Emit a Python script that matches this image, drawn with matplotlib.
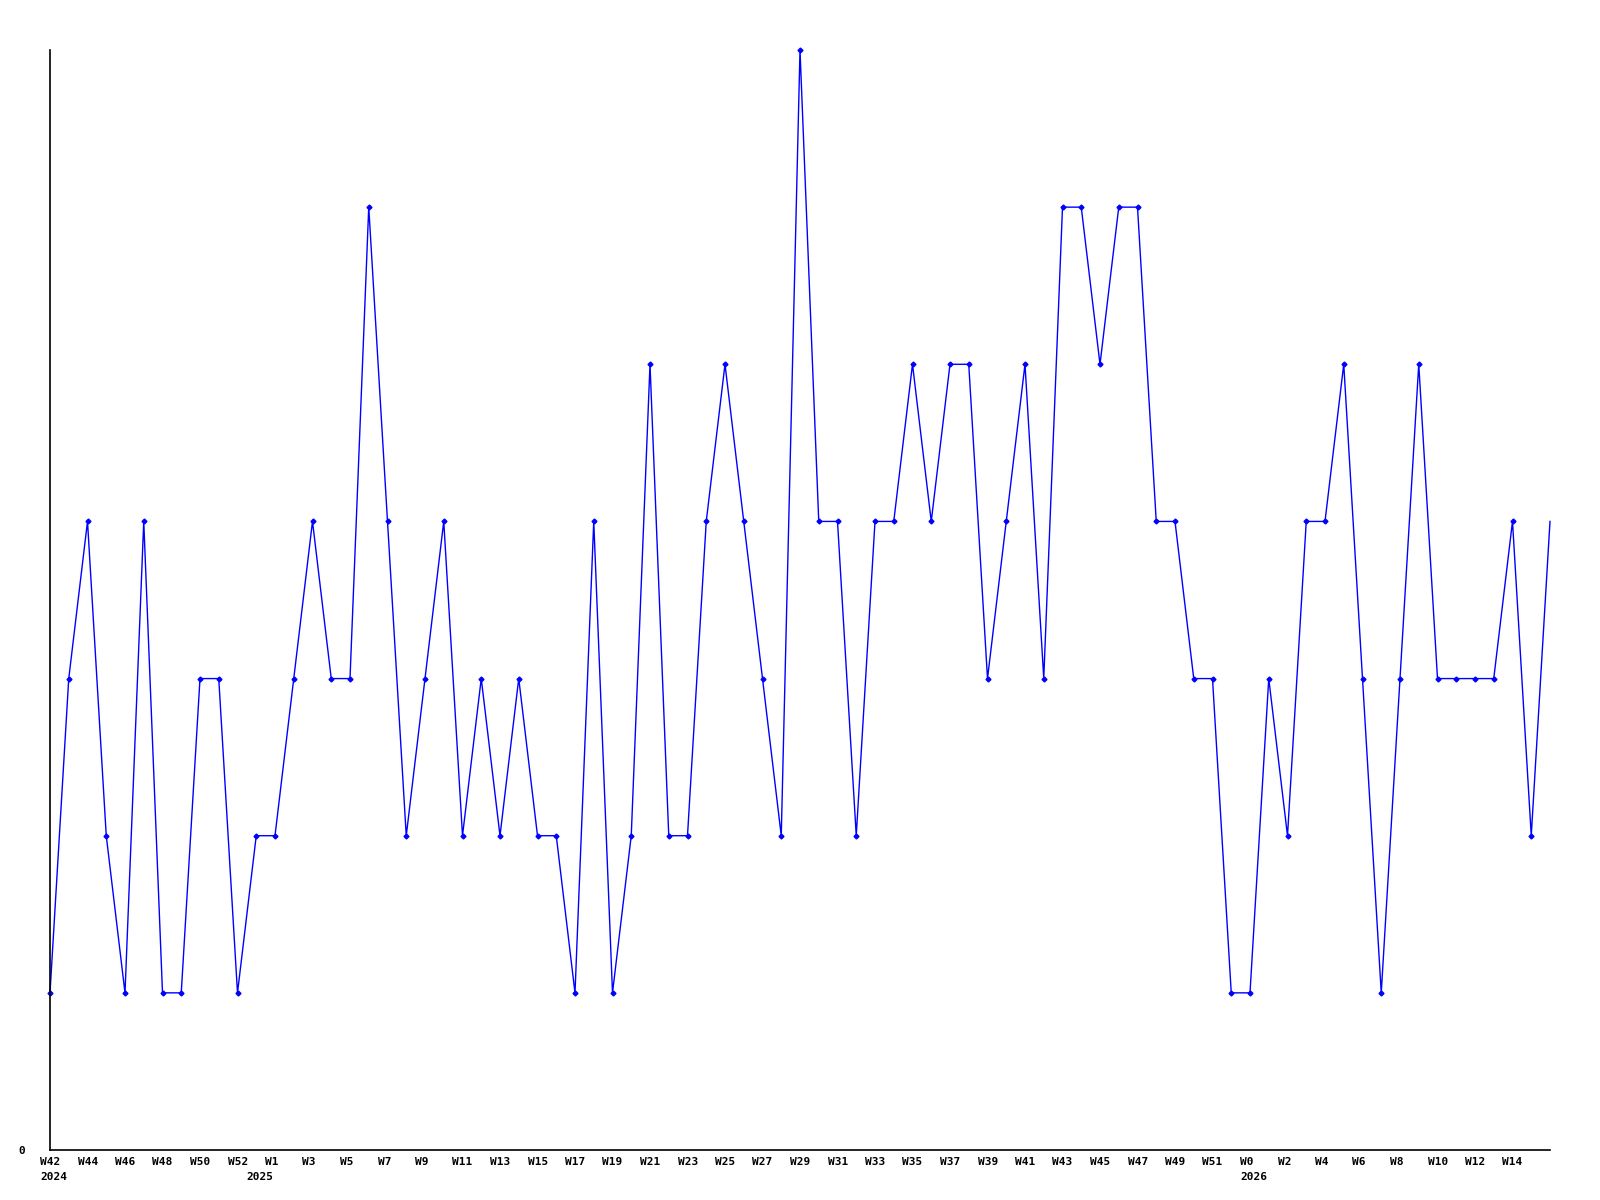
import matplotlib
matplotlib.use("Agg")
import matplotlib.pyplot as plt
import matplotlib.transforms as mtransforms

# ---- data ----
years = [2024] * 11 + [2025] * 53 + [2026] * 17
weeks = list(range(42, 53)) + list(range(0, 53)) + list(range(0, 17))
values = [1, 3, 4, 2, 1, 4, 1, 1, 3, 3, 1,
          2, 2, 3, 4, 3, 3, 6, 4, 2, 3, 4, 2, 3, 2, 3, 2, 2, 1, 4, 1, 2, 5,
          2, 2, 4, 5, 4, 3, 2, 7, 4, 4, 2, 4, 4, 5, 4, 5, 5, 3, 4, 5, 3, 6,
          6, 5, 6, 6, 4, 4, 3, 3, 1,
          1, 3, 2, 4, 4, 5, 3, 1, 3, 5, 3, 3, 3, 3, 4, 2, 4]
y_tick_labels = ["0"]

x = list(range(len(values)))
week_labels = [f"W{w}" for w in weeks]

fig = plt.figure(figsize=(16, 12), dpi=100)
ax = fig.add_axes([50 / 1600, 50 / 1200, 1500 / 1600, 1100 / 1200])

ax.plot(x, values, color="#0000ff", lw=1.0, marker="D", markersize=2.5,
        markevery=list(range(len(values) - 1)), clip_on=False)
ax.set_xlim(0, len(values) - 1)
ax.set_ylim(0, 7)

for s in ["top", "right"]:
    ax.spines[s].set_visible(False)
for s in ["left", "bottom"]:
    ax.spines[s].set_color("black")
    ax.spines[s].set_linewidth(1.2)

font = dict(family="DejaVu Sans Mono", weight="bold", size=8)

ax.set_yticks([0])
ax.set_yticklabels(y_tick_labels, **font)
ax.tick_params(axis="y", length=0, pad=18)

ax.set_xticks([])
base = mtransforms.blended_transform_factory(ax.transData, ax.transAxes)
for i in x[::2][:-1]:
    ax.text(i, 0, week_labels[i], ha="left", va="center",
            transform=base + mtransforms.ScaledTranslation(-10 / 100, -12 / 100, fig.dpi_scale_trans),
            **font)

prev = None
for i, yv in enumerate(years):
    if yv != prev:
        ax.text(i, 0, str(yv), ha="left", va="center",
                transform=base + mtransforms.ScaledTranslation(-10 / 100, -27 / 100, fig.dpi_scale_trans),
                **font)
        prev = yv

fig.savefig("out.png", dpi=100)
